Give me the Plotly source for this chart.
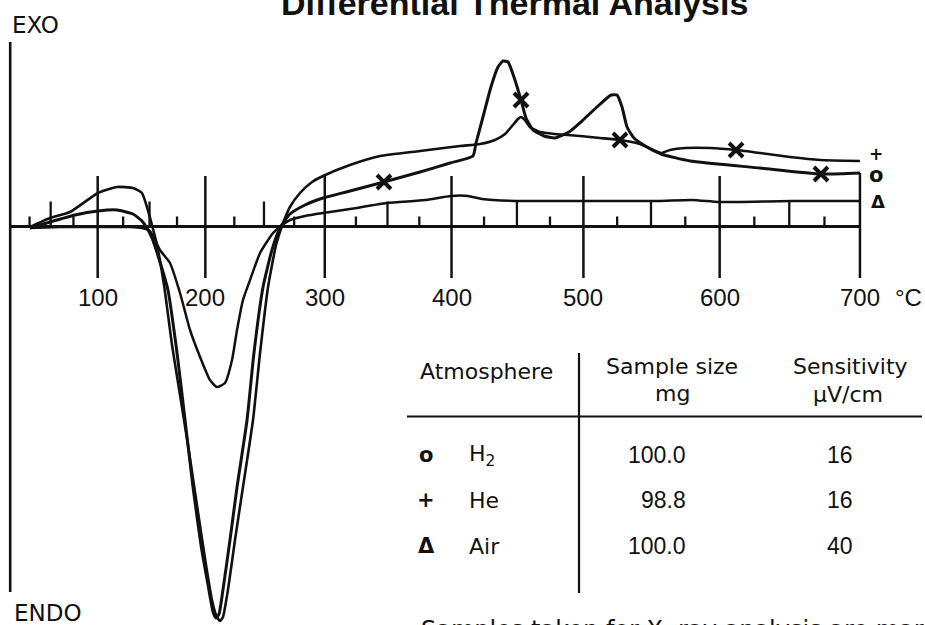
import plotly.graph_objects as go

# ---------------- data ----------------
# The recorder abscissa is linear in thermocouple EMF (Pt/Pt-10%Rh, mV);
# temperature ticks sit at the EMF of each temperature.
TICK_TEMP_C = list(range(25, 701, 25))
TICK_EMF_MV = [0.143, 0.299, 0.467, 0.646, 0.834, 1.029, 1.232, 1.441, 1.655, 1.874,
               2.097, 2.323, 2.553, 2.786, 3.021, 3.259, 3.499, 3.742, 3.986, 4.233,
               4.482, 4.732, 4.985, 5.239, 5.495, 5.753, 6.013, 6.275]
LABEL_TEMP_C = [100, 200, 300, 400, 500, 600, 700]

# DTA deflection (arbitrary units, + = exo) versus EMF (mV)
H2_MV = [0.146, 0.294, 0.479, 0.648, 0.789, 0.907, 0.973, 1.010, 1.047, 1.106,
         1.165, 1.232, 1.291, 1.350, 1.409, 1.461, 1.498, 1.520, 1.542, 1.571,
         1.623, 1.675, 1.749, 1.800, 1.867, 1.933, 1.992, 2.066, 2.177, 2.310,
         2.509, 2.760, 3.026, 3.248, 3.417, 3.440, 3.499, 3.550, 3.602, 3.639,
         3.676, 3.720, 3.772, 3.809, 3.861, 3.942, 4.023, 4.126, 4.230, 4.333,
         4.437, 4.481, 4.518, 4.555, 4.606, 4.702, 4.806, 5.020, 5.537, 5.987, 6.275]
H2_DEFL = [-0.15, 0.45, 1.15, 1.55, 1.65, 1.25, 0.55, -0.15, -1.15, -3.55,
           -6.35, -12.65, -19.35, -26.05, -31.85, -35.85, -38.55, -39.15, -38.75, -36.35,
           -31.35, -26.05, -19.35, -12.65, -6.05, -2.35, -0.15, 1.25, 2.15, 2.85,
           3.55, 4.45, 5.45, 6.35, 7.05, 8.35, 11.35, 13.95, 15.95, 16.55,
           16.45, 14.95, 12.65, 10.85, 9.65, 9.05, 8.85, 9.45, 10.65, 11.95,
           13.15, 13.15, 11.95, 9.95, 8.85, 7.95, 7.25, 6.55, 5.85, 5.25, 5.35]

HE_MV = [0.146, 0.294, 0.442, 0.648, 0.789, 0.907, 0.973, 1.010, 1.047, 1.084,
         1.136, 1.195, 1.254, 1.313, 1.379, 1.446, 1.490, 1.520, 1.549, 1.571,
         1.608, 1.660, 1.719, 1.793, 1.845, 1.904, 1.963, 2.007, 2.066, 2.140,
         2.229, 2.310, 2.509, 2.731, 3.026, 3.322, 3.469, 3.580, 3.654, 3.706,
         3.750, 3.772, 3.801, 3.838, 3.912, 4.023, 4.208, 4.355, 4.503, 4.651,
         4.806, 4.872, 4.983, 5.168, 5.360, 5.537, 5.758, 5.980, 6.275]
HE_DEFL = [-0.05, 0.85, 1.45, 3.35, 3.95, 3.85, 3.35, 1.95, 0.15, -1.85,
           -5.85, -11.85, -16.85, -21.85, -27.85, -33.85, -37.35, -38.85, -39.45, -39.05,
           -36.35, -31.35, -26.05, -19.35, -12.65, -6.05, -1.85, 0.05, 1.95, 3.35,
           4.45, 5.05, 6.15, 7.05, 7.55, 8.05, 8.25, 8.65, 9.25, 10.05,
           10.75, 10.95, 10.65, 9.95, 9.45, 9.25, 9.05, 8.85, 8.65, 8.25,
           7.35, 7.65, 7.85, 7.85, 7.65, 7.35, 6.95, 6.65, 6.55]

AIR_MV = [0.146, 0.368, 0.663, 0.885, 0.973, 1.032, 1.106, 1.180, 1.254, 1.328,
          1.402, 1.475, 1.527, 1.586, 1.638, 1.675, 1.719, 1.771, 1.845, 1.941,
          2.007, 2.066, 2.177, 2.310, 2.509, 2.782, 3.063, 3.255, 3.381, 3.484,
          3.728, 4.230, 4.784, 5.035, 5.227, 5.404, 5.773, 6.275]
AIR_DEFL = [-0.15, -0.05, -0.05, -0.05, -0.15, -0.45, -2.35, -3.65, -6.65, -10.35,
            -13.05, -15.35, -16.05, -15.65, -13.35, -10.35, -7.35, -5.35, -2.65, -0.65,
            0.15, 0.65, 1.05, 1.35, 1.75, 2.35, 2.65, 3.05, 3.05, 2.75,
            2.55, 2.55, 2.55, 2.65, 2.45, 2.45, 2.55, 2.55]

# samples taken for X-ray analysis (marked x)
XRAY_MV = [2.760, 3.772, 4.503, 5.360, 5.987]
XRAY_DEFL = [4.45, 12.65, 8.65, 7.65, 5.25]

TABLE_SYMBOLS = ["o", "+", "Δ"]
TABLE_ATMOS = ["H<sub>2</sub>", "He", "Air"]
TABLE_SIZE = ["100.0", "98.8", "100.0"]
TABLE_SENS = ["16", "16", "40"]

# ---------------- layout helpers ----------------
W, H = 925, 625
X_RANGE = [-0.0753, 6.7553]
Y_RANGE = [-39.85, 22.65]
NUM_FONT = "Liberation Sans, Arial, sans-serif"
WORD_FONT = "DejaVu Sans, Verdana, sans-serif"
INK = "#111111"


def pxx(x):
    return x / W


def pxy(y):
    return 1 - y / H


fig = go.Figure()

curve_style = [("H<sub>2</sub>", H2_MV, H2_DEFL, 3.0),
               ("He", HE_MV, HE_DEFL, 2.6),
               ("Air", AIR_MV, AIR_DEFL, 2.5)]
for name, xs, ys, w in curve_style:
    fig.add_trace(go.Scatter(x=xs, y=ys, mode="lines", name=name,
                             line=dict(color=INK, width=w, shape="spline", smoothing=0.5),
                             hoverinfo="skip"))

fig.add_trace(go.Scatter(x=XRAY_MV, y=XRAY_DEFL, mode="markers", name="X-ray samples",
                         marker=dict(symbol="x-thin", size=14, color=INK,
                                     line=dict(color=INK, width=4)),
                         hoverinfo="skip"))

shapes = []
# y axis (EXO / ENDO)
shapes.append(dict(type="line", xref="x", yref="y", x0=0, x1=0, y0=-36.55, y1=18.45,
                   line=dict(color=INK, width=2.6)))
# temperature baseline
shapes.append(dict(type="line", xref="x", yref="y", x0=0, x1=TICK_EMF_MV[-1], y0=0, y1=0,
                   line=dict(color=INK, width=3.2)))
# temperature ticks
for t, e in zip(TICK_TEMP_C, TICK_EMF_MV):
    if t % 100 == 0:
        top = H2_DEFL[-1] if t == 700 else 5.05
        y0, y1, w = -5.15, top, 2.5
    elif t % 50 == 0:
        y0, y1, w = 0, 2.5, 2.3
    else:
        y0, y1, w = 0, 1.0, 2.3
    shapes.append(dict(type="line", xref="x", yref="y", x0=e, x1=e, y0=y0, y1=y1,
                       line=dict(color=INK, width=w)))

# table rules
shapes.append(dict(type="line", xref="paper", yref="paper", x0=pxx(407), x1=pxx(922),
                   y0=pxy(416.5), y1=pxy(416.5), line=dict(color=INK, width=2.2)))
shapes.append(dict(type="line", xref="paper", yref="paper", x0=pxx(579), x1=pxx(579),
                   y0=pxy(353), y1=pxy(593), line=dict(color=INK, width=2.2)))

ann = []


def text(x, y, s, size=22, xanchor="center", yanchor="middle", bold=False, family=WORD_FONT):
    ann.append(dict(xref="paper", yref="paper", x=pxx(x), y=pxy(y), text=s,
                    showarrow=False, xanchor=xanchor, yanchor=yanchor,
                    font=dict(family=family, size=size, color=INK,
                              weight="bold" if bold else "normal")))


# tick labels
for t in LABEL_TEMP_C:
    e = TICK_EMF_MV[TICK_TEMP_C.index(t)]
    ann.append(dict(xref="x", yref="y", x=e, y=0, yshift=-71, text=str(t),
                    showarrow=False, xanchor="center", yanchor="middle",
                    font=dict(family=NUM_FONT, size=24, color=INK)))
ann.append(dict(xref="x", yref="y", x=TICK_EMF_MV[-1], y=0, xshift=49, yshift=-71,
                text="°C", showarrow=False, xanchor="center", yanchor="middle",
                font=dict(family=NUM_FONT, size=24, color=INK)))

# curve end symbols
ann.append(dict(xref="x", yref="y", x=HE_MV[-1], y=HE_DEFL[-1], xshift=16, yshift=7,
                text="<b>+</b>", showarrow=False, borderpad=0,
                font=dict(family=WORD_FONT, size=17, color=INK)))
ann.append(dict(xref="x", yref="y", x=H2_MV[-1], y=H2_DEFL[-1], xshift=16, yshift=-2,
                text="<b>o</b>", showarrow=False, borderpad=0,
                font=dict(family=WORD_FONT, size=21, color=INK)))
ann.append(dict(xref="x", yref="y", x=AIR_MV[-1], y=AIR_DEFL[-1], xshift=18, yshift=0,
                text="<b>Δ</b>", showarrow=False,
                font=dict(family=WORD_FONT, size=18, color=INK)))

# axis captions and title
text(10, 25, "EXO", size=23, xanchor="left")
text(12, 613, "ENDO", size=23, xanchor="left")
text(514, 3, "Differential Thermal Analysis", size=34, bold=True, family=NUM_FONT)

# table
text(418, 371, "Atmosphere", xanchor="left")
text(672, 366, "Sample size")
text(672, 393, "mg")
text(850, 366, "Sensitivity")
text(848, 394, "µV/cm")
row_y = [455, 500, 546]
for i, yy in enumerate(row_y):
    text(426, yy, "<b>" + TABLE_SYMBOLS[i] + "</b>", size=21)
    text(467, yy, TABLE_ATMOS[i], xanchor="left")
    text(688, yy, TABLE_SIZE[i], size=23, xanchor="right", family=NUM_FONT)
    text(840, yy, TABLE_SENS[i], size=23, family=NUM_FONT)

text(419, 630, "Samples taken for X- ray analysis are marked ×", size=24, xanchor="left")

fig.update_layout(
    width=W, height=H, autosize=False,
    margin=dict(l=0, r=0, t=0, b=0, pad=0),
    paper_bgcolor="white", plot_bgcolor="white",
    showlegend=False,
    xaxis=dict(range=X_RANGE, visible=False, fixedrange=True),
    yaxis=dict(range=Y_RANGE, visible=False, fixedrange=True),
    shapes=shapes, annotations=ann,
)

fig.write_html("out.html", config={"displayModeBar": False},
               post_script="document.body.style.margin='0px';")
